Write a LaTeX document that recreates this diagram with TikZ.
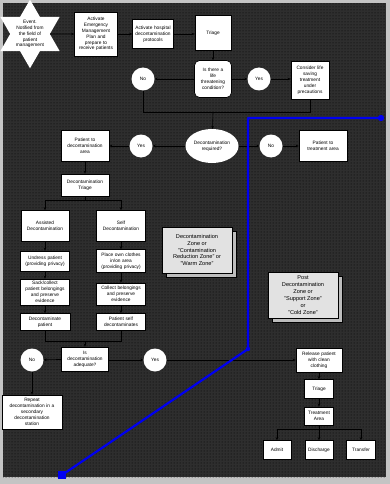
\documentclass[tikz,border=0pt]{standalone}
\usepackage{fontspec}
\setmainfont{Liberation Sans}
\usetikzlibrary{shapes.geometric,arrows.meta,patterns,shadows,calc}
\definecolor{bgdark}{HTML}{2E2E2E}
\definecolor{frame}{HTML}{C4C4C4}
\definecolor{zonefill}{HTML}{E2E2E2}
\definecolor{zoneshadow}{HTML}{BDBDBD}
\definecolor{zoneblue}{HTML}{0000F0}
\begin{document}
\begin{tikzpicture}[x=1pt,y=-1pt,
  small/.style={font=\fontsize{4.8}{5.9}\selectfont},
  box/.style={draw=black,fill=white,line width=0.7pt,align=center,small,inner sep=0.3pt},
  circ/.style={circle,fill=white,minimum size=23pt,inner sep=0pt,small},
  conn/.style={line width=0.6pt,-{Stealth[length=3pt,width=2.6pt]}},
  plain/.style={line width=0.6pt},
  zone/.style={draw=black,line width=0.4pt,fill=zonefill,align=center,
    font=\fontsize{5.6}{6.9}\selectfont,minimum width=70pt,minimum height=46pt,inner sep=1pt,
    drop shadow={shadow xshift=4pt,shadow yshift=-4pt,fill=zoneshadow,draw=black,line width=0.3pt,opacity=1}}
]
\useasboundingbox (0,0) rectangle (390,484);
\fill[frame] (0,0) rectangle (390,484);
\fill[bgdark] (3,3) rectangle (386,477);
\fill[pattern=dots,pattern color=black] (3,3) rectangle (386,477);

% top row
\node[star,star points=6,star point ratio=1.73,minimum size=64pt,fill=white,inner sep=0pt,align=center,small] (event) at (30,34)
  {Event.\\Notified from\\the field of\\patient\\management};
\node[box,minimum width=43pt,minimum height=44pt,text width=42.4pt] (act1) at (96,34)
  {Activate\\Emergency\\Management\\Plan and\\prepare to\\receive patients};
\node[box,minimum width=41pt,minimum height=29pt,text width=40.4pt] (act2) at (153,34)
  {Activate hospital\\decontamination\\protocols};
\node[box,minimum width=36pt,minimum height=35pt] (triage1) at (213,33) {Triage};

% life threatening
\node[box,rounded corners=5pt,minimum width=37pt,minimum height=37pt,text width=36pt] (lifeq) at (213,79)
  {Is there a\\life\\threatening\\condition?};
\node[circ] (no1) at (143,79) {No};
\node[circ] (yes1) at (259,79) {Yes};
\node[box,minimum width=38pt,minimum height=38pt,text width=37pt] (consider) at (310,80)
  {Consider life\\saving\\treatment\\under\\precautions};
\coordinate (junc) at (213,112);

% decontamination required
\node[ellipse,fill=white,minimum width=53pt,minimum height=34pt,inner sep=0pt,align=center,small] (decreq) at (212,146)
  {Decontamination\\required?};
\node[circ] (yes2) at (141,146) {Yes};
\node[circ] (no2) at (271,146) {No};
\node[box,minimum width=48pt,minimum height=31pt,text width=47pt] (decarea) at (85,146)
  {Patient to\\decontamination\\area};
\node[box,minimum width=48pt,minimum height=31pt,text width=47pt] (treatarea) at (323,146)
  {Patient to\\treatment area};

% decontamination triage
\node[box,minimum width=48pt,minimum height=22pt,text width=47pt] (dectriage) at (85,185)
  {Decontamination\\Triage};
\node[box,minimum width=48pt,minimum height=31pt,text width=47pt] (assisted) at (45,226)
  {Assisted\\Decontamination};
\node[box,minimum width=49pt,minimum height=31pt,text width=48pt] (self) at (121,226)
  {Self\\Decontamination};
\node[box,minimum width=49pt,minimum height=20pt,text width=48pt] (undress) at (45,261)
  {Undress patient\\(providing privacy)};
\node[box,minimum width=49pt,minimum height=23pt,text width=48pt] (place) at (121,261)
  {Place own clothes\\in/on area\\(providing privacy)};
\node[box,minimum width=49pt,minimum height=26pt,text width=48pt] (sack) at (45,292)
  {Sack/collect\\patient belongings\\and preserve\\evidence};
\node[box,minimum width=49pt,minimum height=22pt,text width=48pt] (collect) at (121,294)
  {Collect belongings\\and preserve\\evidence};
\node[box,minimum width=50pt,minimum height=17pt,text width=49pt] (decpat) at (45,322)
  {Decontaminate\\patient};
\node[box,minimum width=49pt,minimum height=17pt,text width=48pt] (selfdec) at (121,322)
  {Patient self\\decontaminates};
\coordinate (j2) at (85,341);

% adequate
\node[box,minimum width=47pt,minimum height=24pt,text width=46pt] (adequate) at (85,359)
  {Is\\decontamination\\adequate?};
\node[circ] (no3) at (32,360) {No};
\node[circ] (yes3) at (155,360) {Yes};
\node[box,minimum width=60pt,minimum height=34pt,text width=59pt] (repeat) at (32,412)
  {Repeat\\decontamination in a\\secondary\\decontamination\\station};

% post decontamination
\node[box,minimum width=46pt,minimum height=24pt,text width=45pt] (release) at (319,360)
  {Release patient\\with clean\\clothing};
\node[box,minimum width=29pt,minimum height=19pt] (triage2) at (319,389) {Triage};
\node[box,minimum width=29pt,minimum height=18pt,text width=28pt] (treatment) at (319,416)
  {Treatment\\Area};
\node[box,minimum width=28pt,minimum height=19pt] (admit) at (277,450) {Admit};
\node[box,minimum width=28pt,minimum height=19pt] (discharge) at (319,450) {Discharge};
\node[box,minimum width=29pt,minimum height=19pt] (transfer) at (361,450) {Transfer};
\coordinate (j3) at (319,429);

% zones
\node[zone] (zone1) at (197,250)
  {Decontamination\\Zone or\\"Contamination\\Reduction Zone" or\\"Warm Zone"};
\node[zone] (zone2) at (303,295)
  {Post\\Decontamination\\Zone or\\"Support Zone"\\or\\"Cold Zone"};

% connectors
\draw[conn] (event) -- (act1);
\draw[conn] (act1) -- (act2);
\draw[conn] (act2) -- (triage1.west |- act2);
\draw[conn] (triage1) -- (lifeq);
\draw[conn] (lifeq) -- (no1);
\draw[conn] (lifeq) -- (yes1);
\draw[conn] (yes1) -- (consider.west |- yes1);
\draw[plain] (no1) |- (junc);
\draw[plain] (consider) |- (junc);
\draw[conn] (junc) -- (decreq);
\draw[conn] (decreq) -- (yes2);
\draw[conn] (yes2) -- (decarea);
\draw[conn] (decreq) -- (no2);
\draw[conn] (no2) -- (treatarea);
\draw[conn] (decarea) -- (dectriage);
\draw[plain] (dectriage.south) -- ++(0,4) coordinate (b1);
\draw[conn] (b1) -| (assisted.north);
\draw[conn] (b1) -| (self.north);
\draw[conn] (assisted) -- (undress);
\draw[conn] (undress) -- (sack);
\draw[conn] (sack) -- (decpat);
\draw[conn] (self) -- (place);
\draw[conn] (place) -- (collect);
\draw[conn] (collect) -- (selfdec);
\draw[plain] (decpat.south) |- (j2);
\draw[plain] (selfdec.south) |- (j2);
\draw[conn] (j2) -- (adequate);
\draw[conn] (adequate) -- (no3);
\draw[conn] (adequate.east |- yes3) -- (yes3);
\draw[conn] (no3) -- (repeat);
\draw[conn] (yes3) -- (release);
\draw[conn] (release) -- (triage2);
\draw[conn] (triage2) -- (treatment);
\draw[plain] (treatment) -- (j3);
\draw[conn] (j3) -| (admit.north);
\draw[conn] (j3) -- (discharge);
\draw[conn] (j3) -| (transfer.north);

% zone boundary
\coordinate (bl1) at (381,118);
\coordinate (bl2) at (248,118);
\coordinate (bl3) at (248,349);
\coordinate (bl4) at (62,475);
\draw[zoneblue,line width=2.2pt,line join=round] (bl1) -- (bl2) -- (bl3) -- (bl4);
\fill[zoneblue] (bl1) circle (3.2);
\fill[zoneblue] (bl3) circle (2.2);
\fill[zoneblue] ($(bl4)+(-4,-4)$) rectangle ($(bl4)+(4,4)$);
\end{tikzpicture}
\end{document}
